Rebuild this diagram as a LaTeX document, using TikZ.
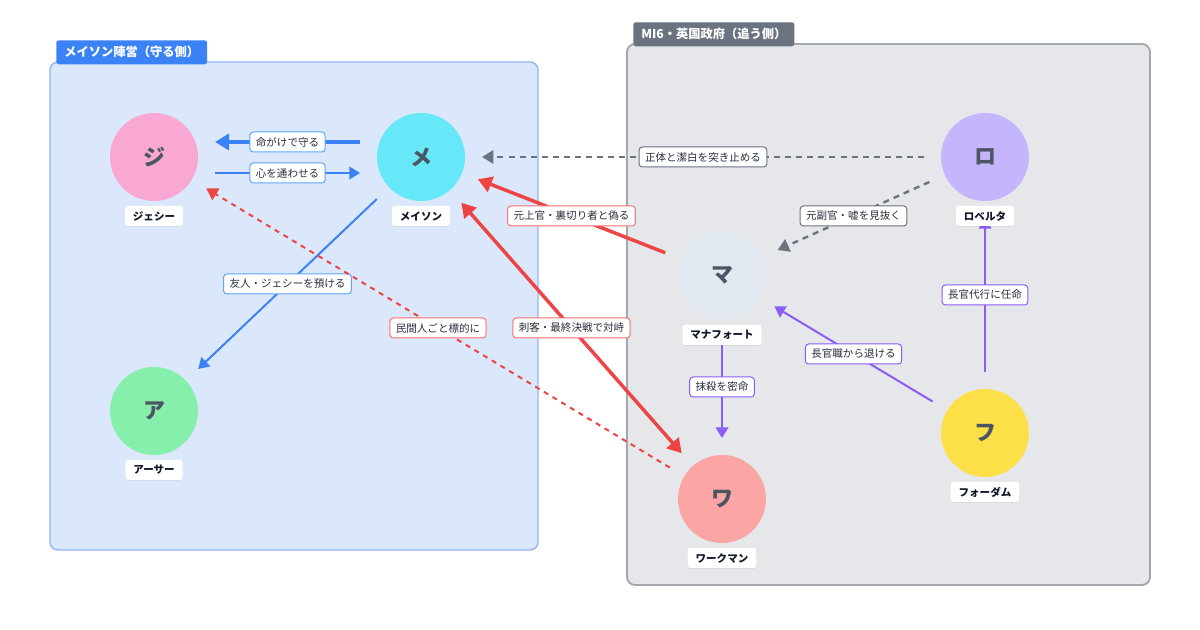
\documentclass[tikz,border=0pt]{standalone}
\usepackage{fontspec}
\setmainfont{Noto Sans CJK JP}
\usetikzlibrary{arrows.meta,shadows,calc}
\definecolor{leftfill}{HTML}{DBE7FB}
\definecolor{leftborder}{HTML}{8FB6F8}
\definecolor{rightfill}{HTML}{E5E7EB}
\definecolor{rightborder}{HTML}{A3A7AE}
\definecolor{tabblue}{HTML}{3B82F6}
\definecolor{tabgray}{HTML}{6B7280}
\definecolor{cji}{HTML}{F9A8D4}
\definecolor{cme}{HTML}{67E8F9}
\definecolor{car}{HTML}{86EFAC}
\definecolor{cma}{HTML}{E2E8F0}
\definecolor{cwa}{HTML}{FCA5A5}
\definecolor{cro}{HTML}{C4B5FD}
\definecolor{cfo}{HTML}{FDE047}
\definecolor{glyph}{HTML}{4B5563}
\definecolor{ink}{HTML}{111827}
\definecolor{eblue}{HTML}{3B82F6}
\definecolor{ered}{HTML}{EF4444}
\definecolor{egray}{HTML}{6B7280}
\definecolor{epurple}{HTML}{8B5CF6}
\definecolor{lblue}{HTML}{60A5FA}
\definecolor{lred}{HTML}{F87171}
\begin{document}
\begin{tikzpicture}[x=0.75pt,y=-0.75pt,
  person/.style={circle, minimum size=66pt, inner sep=0pt, outer sep=12.75pt,
    font=\fontsize{16.5}{16.5}\selectfont\bfseries, text=glyph},
  namelab/.style={fill=white, rounded corners=2pt, inner xsep=6pt, inner ysep=0pt,
    minimum height=15pt, text=ink, font=\fontsize{7.9}{8}\selectfont\bfseries,
    drop shadow={opacity=0.12, shadow xshift=0pt, shadow yshift=-0.6pt}},
  elab/.style={fill=white, draw, solid, rounded corners=2.5pt, line width=0.75pt,
    inner xsep=4.5pt, inner ysep=0pt, minimum height=15pt, text=ink!90,
    font=\fontsize{7.9}{8}\selectfont},
  grptab/.style={anchor=north west, rounded corners=2pt, inner xsep=6pt, inner ysep=0pt,
    minimum height=18pt, text=white, font=\fontsize{9.2}{9.5}\selectfont\bfseries},
  thickarr/.style={line width=2.6pt, -{Triangle[length=10.5pt,width=12pt]}},
  thinarr/.style={line width=1.5pt, -{Triangle[length=8pt,width=9.5pt]}},
  dasharr/.style={line width=1.8pt, dash pattern=on 4.5pt off 3.8pt, -{Triangle[length=8.5pt,width=10pt]}},
  reddash/.style={line width=1.5pt, dash pattern=on 3.8pt off 3.8pt, -{Triangle[length=8.5pt,width=10pt]}}
]
\useasboundingbox (0,0) rectangle (1200,630);
\fill[white] (0,0) rectangle (1200,630);

% groups
\draw[fill=leftfill, draw=leftborder, line width=1.1pt, rounded corners=6pt] (50,62) rectangle (538,550);
\node[grptab, fill=tabblue] (tabL) at (56,40) {メイソン陣営（守る側）};
\draw[fill=rightfill, draw=rightborder, line width=1.4pt, rounded corners=6pt] (627,44) rectangle (1150,585);
\node[grptab, fill=tabgray] (tabR) at (633,22) {MI6・英国政府（追う側）};

% persons
\node[person, fill=cji] (ji) at (154,157) {ジ};
\node[person, fill=cme] (me) at (421,157) {メ};
\node[person, fill=car] (ar) at (154,411) {ア};
\node[person, fill=cma] (ma) at (722,275) {マ};
\node[person, fill=cwa] (wa) at (722,499) {ワ};
\node[person, fill=cro] (ro) at (985,157) {ロ};
\node[person, fill=cfo] (fo) at (985,433) {フ};

% edges
\draw[thickarr, eblue] ($(me.west)+(0,-15)$) -- node[elab, draw=lblue] {命がけで守る} ($(ji.east)+(0,-15)$);
\draw[thinarr, eblue] ($(ji.east)+(0,16)$) -- node[elab, draw=lblue] {心を通わせる} ($(me.west)+(0,16)$);
\draw[thinarr, eblue] (me) -- node[elab, draw=lblue] {友人・ジェシーを預ける} (ar);
\draw[dasharr, egray] (ro) -- node[elab, draw=egray] {正体と潔白を突き止める} (me);
\draw[dasharr, egray] (ro) -- node[elab, draw=egray] {元副官・嘘を見抜く} (ma);
\draw[thickarr, ered] (ma) -- node[elab, draw=lred] {元上官・裏切り者と偽る} (me);
\draw[reddash, ered] (wa) -- node[elab, draw=lred] {民間人ごと標的に} (ji);
\draw[thickarr, ered, {Triangle[length=10.5pt,width=12pt]}-{Triangle[length=10.5pt,width=12pt]}] (me) -- node[elab, draw=lred] {刺客・最終決戦で対峙} (wa);
\draw[thinarr, epurple] (ma) -- node[elab, draw=epurple] {抹殺を密命} (wa);
\draw[thinarr, epurple] (fo) -- node[elab, draw=epurple] {長官職から退ける} (ma);
\draw[thinarr, epurple] (fo) -- node[elab, draw=epurple] {長官代行に任命} (ro);

% name labels
\node[namelab] (jiL) at (154,216) {ジェシー};
\node[namelab] (meL) at (421,216) {メイソン};
\node[namelab] (arL) at (154,470) {アーサー};
\node[namelab] (maL) at (722,335) {マナフォート};
\node[namelab] (waL) at (722,558) {ワークマン};
\node[namelab] (roL) at (985,216) {ロベルタ};
\node[namelab] (foL) at (985,492) {フォーダム};
\end{tikzpicture}
\end{document}
